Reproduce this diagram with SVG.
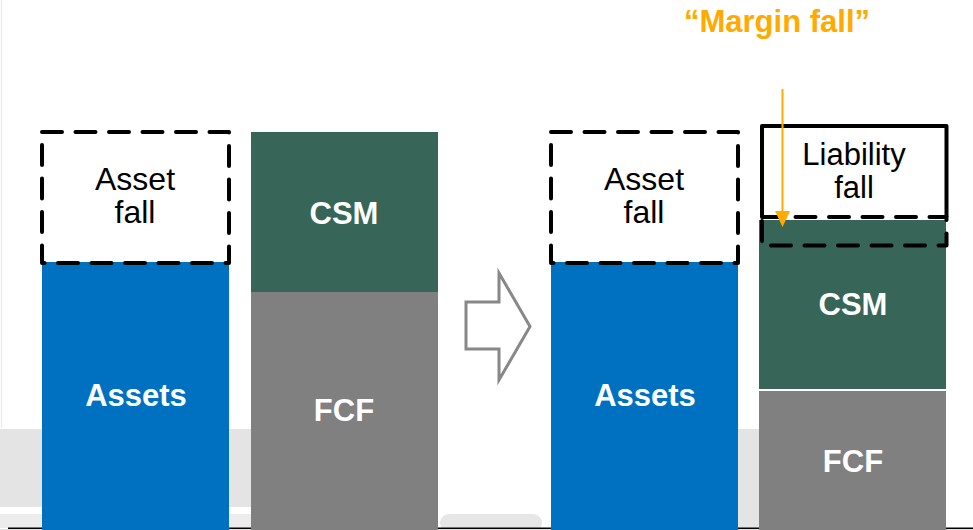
<svg xmlns="http://www.w3.org/2000/svg" width="973" height="530" viewBox="0 0 973 530">
<style>
.lbl{font-family:"Liberation Sans",Arial,sans-serif;text-anchor:middle}
.w{fill:#ffffff;font-weight:bold;font-size:31px}
.k{fill:#000000;font-size:32px}
.dash{fill:none;stroke:#000;stroke-width:4;stroke-dasharray:20 13.5;stroke-linecap:round;stroke-linejoin:round}
.solid{fill:none;stroke:#000;stroke-width:4;stroke-linejoin:round}
.blue{fill:#0070C0}
.green{fill:#376658}
.grey{fill:#808080}
</style>
<g id="background">
<rect x="0" y="0" width="973" height="530" fill="#ffffff"/>
<line x1="1.5" y1="0" x2="1.5" y2="428" stroke="#ededed" stroke-width="1.5"/>
<rect x="0" y="429" width="437" height="78" fill="#e4e4e4"/>
<rect x="0" y="514" width="437" height="14" fill="#ececec"/>
<rect x="440" y="514" width="102" height="18" rx="9" fill="#e6e6e6"/>
<rect x="700" y="429" width="246" height="99" fill="#e4e4e4"/>
<rect x="0" y="529" width="973" height="1" fill="#e0e0e0"/>
<line x1="8" y1="528.3" x2="973" y2="528.3" stroke="#000" stroke-width="1.5"/>
</g>
<g id="assets-left">
<rect class="blue" x="42" y="262" width="187" height="268"/>
<text class="lbl w" x="136" y="406">Assets</text>
</g>
<g id="asset-fall-left">
<rect class="dash" x="42" y="132" width="187" height="131"/>
<text class="lbl k" x="135" y="190">Asset</text>
<text class="lbl k" x="135" y="223">fall</text>
</g>
<g id="csm-left">
<rect class="green" x="251" y="132" width="187" height="160"/>
<text class="lbl w" x="344" y="224">CSM</text>
</g>
<g id="fcf-left">
<rect class="grey" x="251" y="292" width="187" height="238"/>
<text class="lbl w" x="344" y="421">FCF</text>
</g>
<g id="block-arrow">
<polygon points="466,302 499,302 499,273 530,326.5 499,380 499,349 466,349" fill="#ffffff" stroke="#888888" stroke-width="3"/>
</g>
<g id="assets-right">
<rect class="blue" x="551" y="262" width="187" height="268"/>
<text class="lbl w" x="645" y="406">Assets</text>
</g>
<g id="asset-fall-right">
<rect class="dash" x="551" y="132" width="187" height="131"/>
<text class="lbl k" x="644" y="190">Asset</text>
<text class="lbl k" x="644" y="223">fall</text>
</g>
<g id="csm-right">
<rect class="green" x="759" y="220" width="187" height="169"/>
<text class="lbl w" x="853" y="315">CSM</text>
</g>
<g id="fcf-right">
<rect class="grey" x="759" y="391" width="187" height="139"/>
<text class="lbl w" x="853" y="472">FCF</text>
</g>
<g id="liability-fall">
<path class="solid" d="M762,217 V126 H946.5 V217"/>
<rect class="dash" x="762" y="217" width="184.5" height="28.5"/>
<text class="lbl" x="854" y="164.5" font-size="31" fill="#000">Liability</text>
<text class="lbl" x="854" y="198" font-size="31" fill="#000">fall</text>
</g>
<g id="margin-fall">
<text class="lbl" x="777" y="32" font-size="31" font-weight="bold" fill="#FFAA00">“Margin fall”</text>
</g>
<g id="connectors">
<line x1="782.5" y1="89" x2="782.5" y2="213" stroke="#FFAA00" stroke-width="2"/>
<polygon points="775,211 790,211 782.5,227" fill="#FFAA00"/>
</g>
</svg>
